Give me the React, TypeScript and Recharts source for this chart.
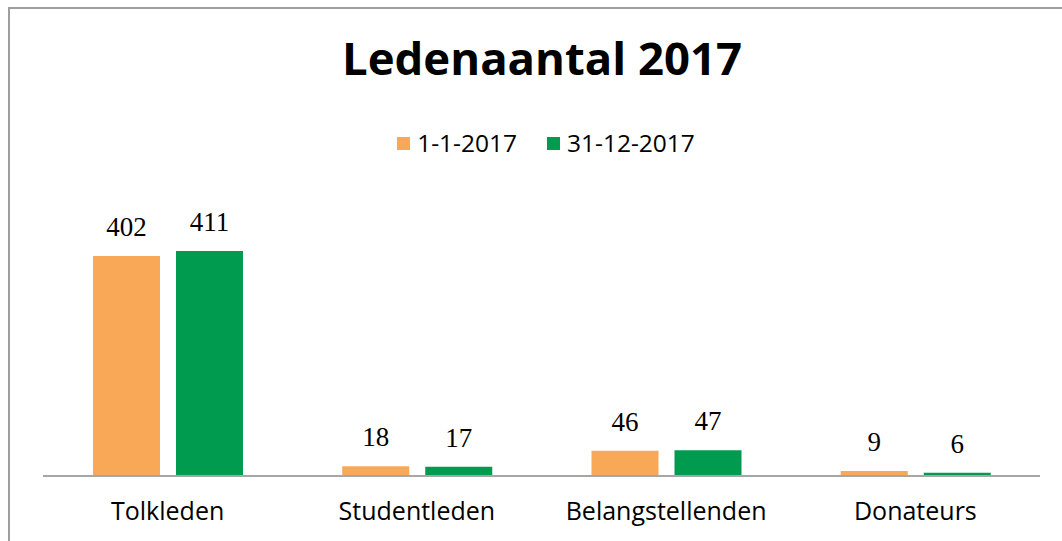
import { Bar, BarChart, LabelList, XAxis, YAxis } from 'recharts'

const categories = ['Tolkleden', 'Studentleden', 'Belangstellenden', 'Donateurs']
const startValues = [402, 18, 46, 9]
const endValues = [411, 17, 47, 6]
const seriesNames = ['1-1-2017', '31-12-2017']
const seriesColors = ['#F9A857', '#009B4F']

const data = categories.map((name, i) => ({
  name,
  start: startValues[i],
  end: endValues[i],
}))

const sans = '"Open Sans", sans-serif'
const serif = '"Liberation Serif", serif'

export default function App() {
  return (
    <div
      style={{
        position: 'absolute',
        left: 0,
        top: 0,
        width: 1062,
        height: 541,
        background: '#fff',
        overflow: 'hidden',
        fontFamily: sans,
      }}
    >
      <div
        style={{
          position: 'absolute',
          left: 8,
          top: 7,
          width: 1100,
          height: 600,
          border: '2px solid #9e9e9e',
        }}
      />
      <div
        style={{
          position: 'absolute',
          left: 0,
          top: 35,
          width: 1084,
          textAlign: 'center',
          fontSize: 45.5,
          fontWeight: 700,
          lineHeight: 1,
          color: '#000',
        }}
      >
        Ledenaantal 2017
      </div>
      <div
        style={{
          position: 'absolute',
          left: 0,
          top: 131,
          width: 1092,
          height: 25,
          display: 'flex',
          justifyContent: 'center',
          alignItems: 'center',
          fontSize: 24.5,
          lineHeight: 1,
          color: '#000',
        }}
      >
        {seriesNames.map((s, i) => (
          <div
            key={s}
            style={{ display: 'flex', alignItems: 'center', marginRight: i === 0 ? 30 : 0 }}
          >
            <span
              style={{
                display: 'inline-block',
                width: 13,
                height: 13,
                background: seriesColors[i],
                marginRight: 7,
              }}
            />
            <span>{s}</span>
          </div>
        ))}
      </div>
      <div style={{ position: 'absolute', left: 0, top: 0 }}>
        <BarChart
          width={1062}
          height={541}
          data={data}
          margin={{ top: 202.4, right: 22, bottom: 25, left: 43 }}
          barCategoryGap="20%"
          barGap={16}
        >
          <YAxis hide domain={[0, 500]} />
          <XAxis
            dataKey="name"
            height={40}
            axisLine={{ stroke: '#a6a6a6', strokeWidth: 2 }}
            tickLine={false}
            tickSize={0}
            tickMargin={26}
            tick={{ fill: '#000', fontSize: 25, fontFamily: sans }}
            interval={0}
          />
          <Bar dataKey="start" name={seriesNames[0]} fill={seriesColors[0]} barSize={67} isAnimationActive={false}>
            <LabelList dataKey="start" position="top" offset={20} fill="#000" fontSize={27} fontFamily={serif} />
          </Bar>
          <Bar dataKey="end" name={seriesNames[1]} fill={seriesColors[1]} barSize={67} isAnimationActive={false}>
            <LabelList dataKey="end" position="top" offset={20} fill="#000" fontSize={27} fontFamily={serif} />
          </Bar>
        </BarChart>
      </div>
    </div>
  )
}
